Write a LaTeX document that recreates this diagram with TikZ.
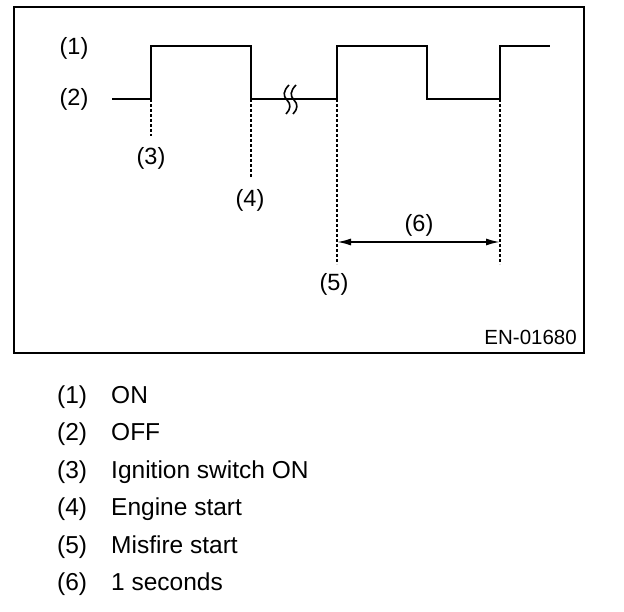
\documentclass[tikz,border=0pt]{standalone}
\usepackage{fontspec}
\setmainfont{Liberation Sans}
\usetikzlibrary{arrows.meta}
\begin{document}
\begin{tikzpicture}[x=1pt,y=-1pt,
  lbl/.style={font=\fontsize{23.5}{26}\selectfont, inner sep=0pt},
  leg/.style={font=\fontsize{24.5}{27}\selectfont, inner sep=0pt},
  codelbl/.style={font=\fontsize{20.5}{24}\selectfont, inner sep=0pt},
  wave/.style={line width=2pt, line join=miter},
  guide/.style={line width=1.3pt, dash pattern=on 3pt off 2pt},
  frame/.style={line width=1.8pt}]
\useasboundingbox (0,0) rectangle (624,612);
\draw[frame] (14,7) rectangle (584,353);
% event coordinates
\coordinate (e3) at (151,99);
\coordinate (e4) at (251,99);
\coordinate (e5) at (337,99);
\coordinate (e6) at (500,99);
% waveform
\draw[wave] (112,99) -- (151,99) -- (151,46) -- (251,46) -- (251,99) -- (337,99) -- (337,46) -- (427,46) -- (427,99) -- (500,99) -- (500,46) -- (550,46);
% break mark
\foreach \bx in {287,294}{
  \draw[line width=1.6pt] (\bx+2,85) .. controls (\bx-4,91) and (\bx-4,96) .. (\bx,100) .. controls (\bx+4,104) and (\bx+4,109) .. (\bx-1,114);
}
% guides
\coordinate (g3) at (151,136);
\coordinate (g4) at (251,178);
\coordinate (g5) at (337,264);
\coordinate (g6) at (500,264);
\draw[guide] (e3) -- (g3);
\draw[guide] (e4) -- (g4);
\draw[guide] (e5) -- (g5);
\draw[guide] (e6) -- (g6);
\coordinate (a5) at (337,242);
\coordinate (a6) at (500,242);
\draw[line width=1.8pt, {Latex[length=14pt,width=7pt]}-{Latex[length=14pt,width=7pt]}] (a5) -- (a6);
% labels
\node[lbl] (l1) at (74,48) {(1)};
\node[lbl] (l2) at (74,99) {(2)};
\node[lbl] (l3) at (151,158) {(3)};
\node[lbl] (l4) at (250,200) {(4)};
\node[lbl] (l5) at (334,284) {(5)};
\node[lbl] (l6) at (419,225) {(6)};
\node[codelbl, anchor=east] (code) at (577,337) {EN-01680};
% legend
\foreach \i/\t [count=\k from 0] in {1/ON,2/OFF,3/Ignition switch ON,4/Engine start,5/Misfire start,6/1 seconds}{
  \node[leg, anchor=base west] (n\i) at (57,403.5+37.4*\k) {(\i)};
  \node[leg, anchor=base west] (t\i) at (111,403.5+37.4*\k) {\t};
}
\end{tikzpicture}
\end{document}
